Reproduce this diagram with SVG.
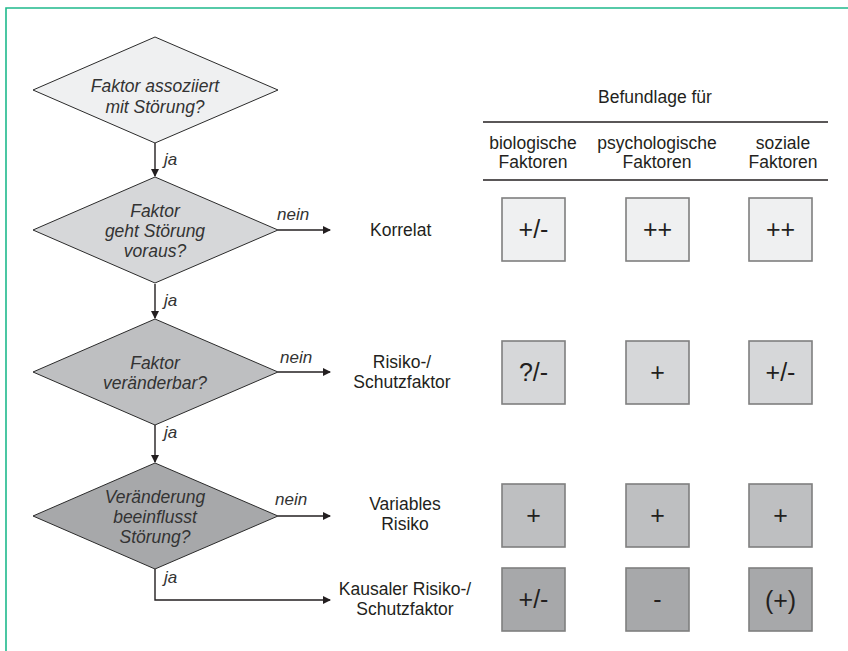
<svg xmlns="http://www.w3.org/2000/svg" width="848" height="651" viewBox="0 0 848 651">
<style>
text{font-family:"Liberation Sans",Arial,Helvetica,sans-serif;font-size:17.5px;fill:#231f20}
.q{font-style:italic;text-anchor:middle;fill:#333}
.lab{font-style:italic;fill:#333;font-size:17px}
.c{text-anchor:middle}
.v{text-anchor:middle;font-size:25px}
.dia{stroke:#2b2b2b;stroke-width:1}
.box{stroke:#7f7f7f;stroke-width:1.6}
.con{stroke:#231f20;stroke-width:1.4;fill:none}
.r1{fill:#eff0f1}.r2{fill:#d6d7d9}.r3{fill:#bebfc1}.r4{fill:#a7a8aa}
</style>
<defs>
<marker id="ah" markerWidth="8" markerHeight="8" refX="7" refY="4" orient="auto" markerUnits="userSpaceOnUse">
<path d="M0,0 L8,4 L0,8 Z" fill="#231f20"/>
</marker>
</defs>
<path d="M6,651 V8 H848" fill="none" stroke="#1fb98c" stroke-width="1.6"/>

<g id="connectors">
<line class="con" x1="155" y1="143" x2="155" y2="176" marker-end="url(#ah)"/>
<line class="con" x1="155" y1="284" x2="155" y2="318" marker-end="url(#ah)"/>
<line class="con" x1="155" y1="425" x2="155" y2="462" marker-end="url(#ah)"/>
<line class="con" x1="278" y1="230" x2="330" y2="230" marker-end="url(#ah)"/>
<line class="con" x1="278" y1="372" x2="330" y2="372" marker-end="url(#ah)"/>
<line class="con" x1="278" y1="516" x2="330" y2="516" marker-end="url(#ah)"/>
<path class="con" d="M155,569 V600 H330" marker-end="url(#ah)"/>
<text class="lab" x="164" y="165">ja</text>
<text class="lab" x="164" y="306">ja</text>
<text class="lab" x="164" y="438">ja</text>
<text class="lab" x="164" y="583">ja</text>
<text class="lab" x="277" y="220">nein</text>
<text class="lab" x="280" y="363">nein</text>
<text class="lab" x="275" y="505">nein</text>
</g>

<g id="d1">
<polygon class="dia r1" points="155,37 278,90 155,143 33,90"/>
<text class="q" x="155" y="92">Faktor assoziiert</text>
<text class="q" x="155" y="113">mit Störung?</text>
</g>
<g id="d2">
<polygon class="dia r2" points="155,177 278,230 155,283 33,230"/>
<text class="q" x="155" y="217">Faktor</text>
<text class="q" x="155" y="237">geht Störung</text>
<text class="q" x="155" y="257">voraus?</text>
</g>
<g id="d3">
<polygon class="dia r3" points="155,319 278,372 155,425 33,372"/>
<text class="q" x="155" y="369">Faktor</text>
<text class="q" x="155" y="389">veränderbar?</text>
</g>
<g id="d4">
<polygon class="dia r4" points="155,463 278,516 155,569 33,516"/>
<text class="q" x="155" y="503">Veränderung</text>
<text class="q" x="155" y="523">beeinflusst</text>
<text class="q" x="155" y="543">Störung?</text>
</g>

<g id="outcomes">
<text x="370" y="236">Korrelat</text>
<text class="c" x="402" y="368">Risiko-/</text>
<text class="c" x="402" y="388">Schutzfaktor</text>
<text class="c" x="405" y="510">Variables</text>
<text class="c" x="405" y="530">Risiko</text>
<text class="c" x="405" y="595">Kausaler Risiko-/</text>
<text class="c" x="405" y="615">Schutzfaktor</text>
</g>

<g id="header">
<text class="c" x="655" y="103">Befundlage für</text>
<line x1="483" y1="122" x2="828" y2="122" stroke="#231f20" stroke-width="1.4"/>
<text class="c" x="533" y="149">biologische</text>
<text class="c" x="533" y="168">Faktoren</text>
<text class="c" x="657" y="149">psychologische</text>
<text class="c" x="657" y="168">Faktoren</text>
<text class="c" x="783" y="149">soziale</text>
<text class="c" x="783" y="168">Faktoren</text>
<line x1="483" y1="180" x2="828" y2="180" stroke="#231f20" stroke-width="1.4"/>
</g>

<g id="row1">
<rect class="box r1" x="502" y="198" width="63" height="63"/>
<rect class="box r1" x="626" y="198" width="63" height="63"/>
<rect class="box r1" x="749" y="198" width="63" height="63"/>
<text class="v" x="533.5" y="238">+/-</text>
<text class="v" x="657.5" y="238">++</text>
<text class="v" x="780.5" y="238">++</text>
</g>
<g id="row2">
<rect class="box r2" x="502" y="341" width="63" height="63"/>
<rect class="box r2" x="626" y="341" width="63" height="63"/>
<rect class="box r2" x="749" y="341" width="63" height="63"/>
<text class="v" x="533.5" y="381">?/-</text>
<text class="v" x="657.5" y="381">+</text>
<text class="v" x="780.5" y="381">+/-</text>
</g>
<g id="row3">
<rect class="box r3" x="502" y="484" width="63" height="63"/>
<rect class="box r3" x="626" y="484" width="63" height="63"/>
<rect class="box r3" x="749" y="484" width="63" height="63"/>
<text class="v" x="533.5" y="524">+</text>
<text class="v" x="657.5" y="524">+</text>
<text class="v" x="780.5" y="524">+</text>
</g>
<g id="row4">
<rect class="box r4" x="502" y="568" width="63" height="63"/>
<rect class="box r4" x="626" y="568" width="63" height="63"/>
<rect class="box r4" x="749" y="568" width="63" height="63"/>
<text class="v" x="533.5" y="608">+/-</text>
<text class="v" x="657.5" y="608">-</text>
<text class="v" x="780.5" y="609">(+)</text>
</g>
</svg>
